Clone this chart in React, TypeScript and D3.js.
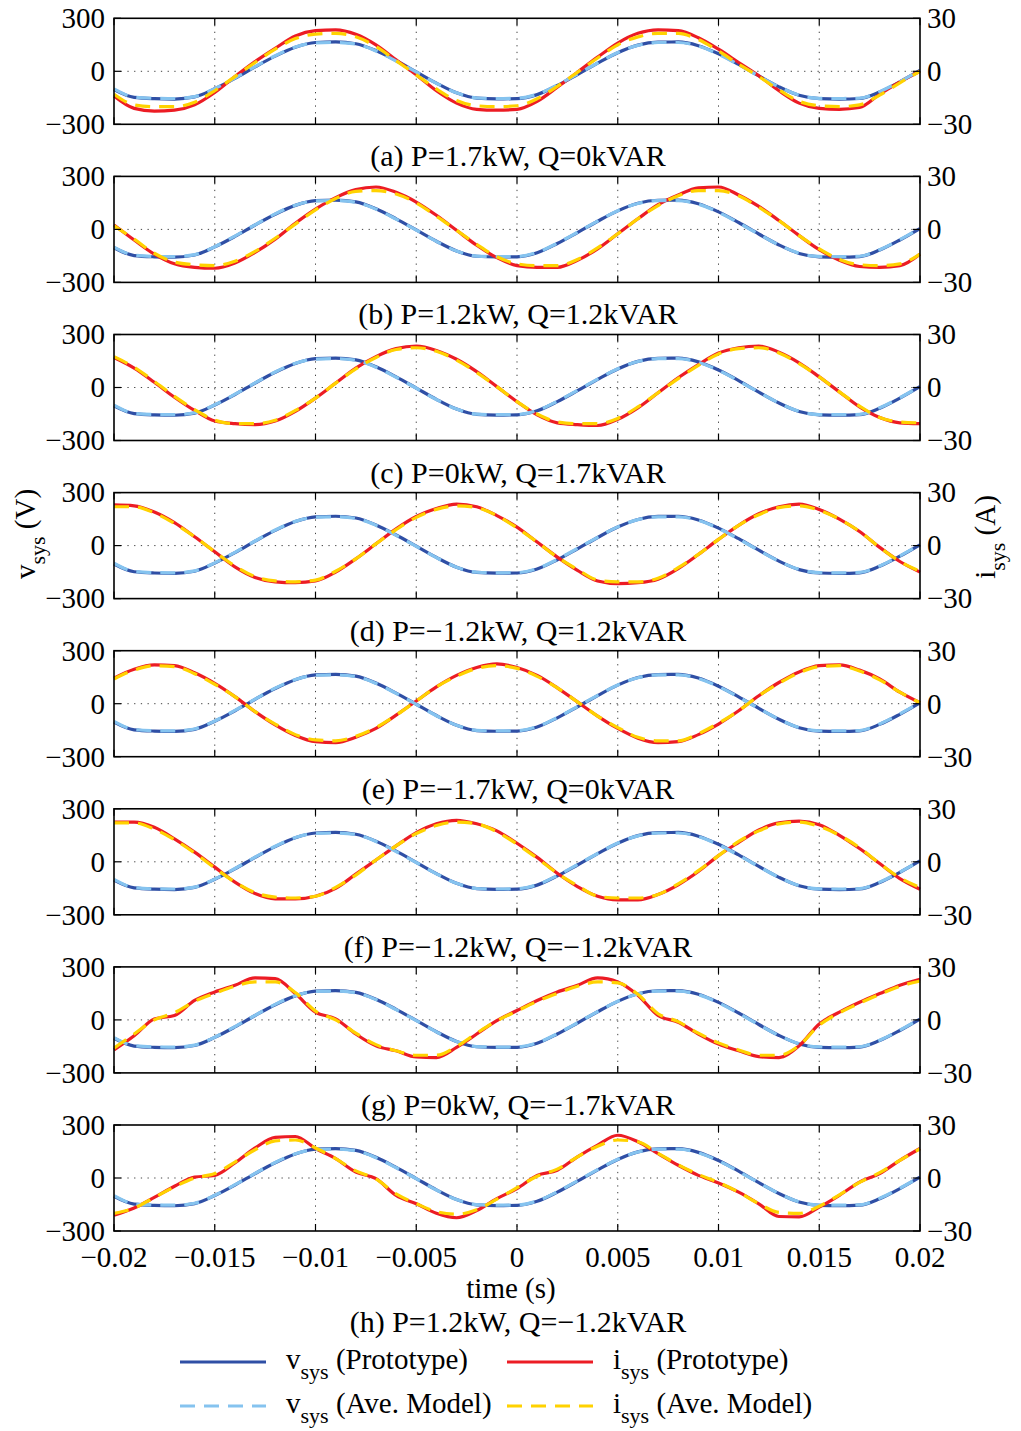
import React from "react";
import { scaleLinear, line, curveMonotoneX } from "d3";

// sample instants (s), one every 1 ms
const sampleTimes = [
  -0.02, -0.019, -0.018, -0.017, -0.016, -0.015, -0.014, -0.013, -0.012, -0.011,
  -0.01, -0.009, -0.008, -0.007, -0.006, -0.005, -0.004, -0.003, -0.002, -0.001,
  0, 0.001, 0.002, 0.003, 0.004, 0.005, 0.006, 0.007, 0.008, 0.009,
  0.01, 0.011, 0.012, 0.013, 0.014, 0.015, 0.016, 0.017, 0.018, 0.019, 0.02
];

const timeTicks = [-0.02, -0.015, -0.01, -0.005, 0, 0.005, 0.01, 0.015, 0.02];
const timeTickLabels = ["−0.02", "−0.015", "−0.01", "−0.005", "0", "0.005", "0.01", "0.015", "0.02"];
const voltTicks = [-300, 0, 300];
const voltTickLabels = ["−300", "0", "300"];
const currTicks = [-30, 0, 30];
const currTickLabels = ["−30", "0", "30"];

// grid voltage (V), same in every case
const vsysProto = [
  -104, -148, -155, -157, -145, -99, -40, 25, 86, 136, 163, 166, 156, 117, 60, -3, -67, -122, -152, -156,
  -155, -132, -80, -18, 46, 105, 148, 165, 166, 145, 99, 39, -26, -88, -136, -155, -157, -154, -117, -60, 5
];
const vsysAve = [
  -100, -146, -153, -154, -143, -98, -38, 26, 88, 137, 161, 163, 154, 115, 58, -4, -68, -122, -151, -154,
  -153, -130, -78, -16, 47, 106, 147, 163, 163, 143, 97, 37, -27, -88, -135, -153, -154, -152, -115, -58, 6
];

// grid current (A) for each case
const isysProtoA = [
  -14, -21, -22.5, -22, -19, -12, -3, 5.5, 13, 20, 23, 23.5, 21, 15, 6.5, -2, -11, -18, -21.5, -22,
  -21.5, -17, -9, -0.5, 8, 16, 21.5, 23.5, 23, 19, 12.5, 5, -2.5, -11, -18, -21, -21.5, -20.5, -13, -6, 0
];
const isysAveA = [
  -13, -19, -20, -20, -17.5, -11, -3, 5, 12.5, 18.5, 21, 21.5, 19.5, 14, 6, -2, -10, -16.5, -19.5, -20,
  -19.5, -15.5, -8.5, -0.5, 7.5, 15, 19.5, 21.5, 21.5, 18, 11.5, 4, -3, -10.5, -17, -19.5, -20, -19, -13.5, -6.5, 0
];
const isysProtoB = [
  2.5, -6, -14, -19.5, -21.5, -22, -19, -13, -5.5, 3.5, 11.5, 18, 22.5, 24, 21, 15.5, 8, -0.5, -9, -16,
  -20.5, -21.5, -21.5, -17.5, -11, -2.5, 6, 14, 19.5, 23.5, 24, 19.5, 13, 5, -3.5, -11.5, -17.5, -21, -21.5, -20.5, -14
];
const isysAveB = [
  2, -5.5, -13.5, -18.5, -20, -20.5, -18, -12.5, -5, 3, 11, 17.5, 21.5, 22, 20, 15, 7.5, -0.5, -8.5, -15.5,
  -19.5, -20.5, -20.5, -17, -10.5, -2.5, 6, 13.5, 19, 22, 22, 19, 12.5, 5, -3.5, -11, -17, -20, -20.5, -19.5, -14
];
const isysProtoC = [
  17, 11, 3, -5.5, -13, -19, -20.5, -21, -19, -13.5, -6, 2.5, 11, 17.5, 22, 23.5, 21, 16, 9, 0.5,
  -8, -15.5, -20, -21, -21.5, -18, -11.5, -3, 5.5, 13, 19.5, 22.5, 23.5, 20, 14, 6, -2.5, -11, -17, -20, -20.5
];
const isysAveC = [
  17.5, 11.5, 3.5, -5, -12.5, -18.5, -20.5, -20.5, -18.5, -13, -6, 2.5, 10.5, 17, 21.5, 22.5, 20.5, 15.5, 8.5, 0.5,
  -8, -15, -19.5, -20.5, -20.5, -17.5, -11, -3, 5, 12.5, 19, 22, 22.5, 19.5, 13.5, 6, -2.5, -10.5, -17, -19.5, -20
];
const isysProtoD = [
  23, 22.5, 19, 13, 5, -3.5, -12, -18, -20.5, -21, -20, -15, -7.5, 1, 9.5, 16.5, 21, 23.5, 22, 17,
  10.5, 2, -6.5, -14, -20, -21.5, -21, -19, -13, -5, 3.5, 11.5, 18, 22, 23.5, 20.5, 15, 8, -1, -9, -15
];
const isysAveD = [
  22, 22, 18.5, 12.5, 5, -3.5, -11.5, -17.5, -20, -20.5, -19.5, -14.5, -7.5, 1, 9, 16, 20.5, 22.5, 21.5, 17,
  10, 2, -6.5, -13.5, -19.5, -20.5, -20.5, -18.5, -12.5, -5, 3.5, 11.5, 17.5, 21.5, 22.5, 20, 15, 8, -1, -9, -14.5
];
const isysProtoE = [
  14.5, 19.5, 22, 21.5, 17.5, 11.5, 4, -4.5, -12, -18, -21.5, -22, -19, -14, -6.5, 1.5, 9.5, 16, 20.5, 22.5,
  20.5, 16, 9, 1, -7, -14, -19.5, -22, -21.5, -17.5, -11.5, -4, 4.5, 12, 18, 21.5, 22, 19, 14, 6.5, 0.5
];
const isysAveE = [
  14, 19, 21.5, 21, 17, 11, 4, -4.5, -11.5, -17.5, -20.5, -21, -18.5, -13.5, -6.5, 1.5, 9.5, 15.5, 20, 21.5,
  20, 15.5, 9, 1, -7, -13.5, -19, -21, -21, -17, -11, -4, 4.5, 11.5, 17.5, 21, 21.5, 18.5, 13.5, 6.5, 0.5
];
const isysProtoF = [
  22.5, 22.5, 19.5, 13, 5.5, -3, -11.5, -18, -21, -21, -19.5, -15, -7, 1, 9, 16.5, 21.5, 23.5, 21.5, 17.5,
  10.5, 2.5, -6.5, -14, -19.5, -21.5, -21.5, -18.5, -13, -5.5, 3.5, 11, 18, 22, 23, 21, 15, 7.5, -1, -9.5, -15.5
];
const isysAveF = [
  22, 22, 18.5, 12.5, 5, -3.5, -11.5, -17.5, -20, -20.5, -19.5, -14.5, -7.5, 1, 9, 16, 20.5, 22.5, 21.5, 17,
  10, 2, -6.5, -13.5, -19.5, -20.5, -20.5, -18.5, -12.5, -5, 3.5, 11.5, 17.5, 21.5, 22.5, 20, 15, 8, -1, -9, -14.5
];
const isysProtoG = [
  -17, -9, 0.5, 2.5, 11, 15.8, 19.6, 23.8, 23.4, 14.9, 4.4, 0.6, -8, -14.7, -17.5, -21, -21.3, -15.6, -8, -0.4,
  5.3, 11, 15.8, 19.6, 23.8, 21.5, 14, 2.5, -1.3, -8, -13.7, -17.5, -20.8, -21.3, -14.7, -2.3, 4.4, 10, 14.9, 19.6, 23
];
const isysAveG = [
  -16, -8, 0, 4, 10.5, 15, 19, 21.5, 21.5, 15.5, 5, 0, -7.5, -14, -17.5, -20, -20, -15, -7.5, -0.5,
  5, 10.5, 15, 19, 21.5, 21, 14.5, 3.5, -1, -7.5, -13, -17, -20, -20, -14.5, -3, 4, 9.5, 14.5, 19, 22
];
const isysProtoH = [
  -21, -17, -11, -4.7, 0.5, 1.5, 8.5, 17, 23, 23.5, 16.7, 11, 3.4, -0.4, -9.8, -14.6, -20, -22.5, -18.4, -11.7,
  -6, 1.5, 4.4, 12, 18.6, 24.2, 20.5, 13.8, 7.2, 1.5, -2.8, -8, -14.6, -21.8, -22, -16.5, -9.8, -2.3, 2.5, 10, 16.7
];
const isysAveH = [
  -20, -17, -11, -5, 0, 2.5, 9, 16, 21, 21.5, 17, 11, 4, -0.5, -9, -14.5, -19, -20.5, -18, -12,
  -5.5, 1, 5, 12, 18, 21.5, 20.5, 14, 7.5, 2, -2.5, -8, -14.5, -19.5, -20, -16, -9.5, -2.5, 3, 10, 16.5
];

const panelCaptions = [
  "(a) P=1.7kW, Q=0kVAR",
  "(b) P=1.2kW, Q=1.2kVAR",
  "(c) P=0kW, Q=1.7kVAR",
  "(d) P=−1.2kW, Q=1.2kVAR",
  "(e) P=−1.7kW, Q=0kVAR",
  "(f) P=−1.2kW, Q=−1.2kVAR",
  "(g) P=0kW, Q=−1.7kVAR",
  "(h) P=1.2kW, Q=−1.2kVAR"
];
const currentsProto = [isysProtoA, isysProtoB, isysProtoC, isysProtoD, isysProtoE, isysProtoF, isysProtoG, isysProtoH];
const currentsAve = [isysAveA, isysAveB, isysAveC, isysAveD, isysAveE, isysAveF, isysAveG, isysAveH];

const W = 1021;
const H = 1431;
const left = 114;
const right = 920;
const firstTop = 18.3;
const step = 158.1;
const panelH = 106;
const font = "'Liberation Serif', 'Times New Roman', serif";
const fs = 29; // tick labels, legend
const capFs = 30; // captions

const colors = {
  vProto: "#2f4fa5",
  vAve: "#85c3ef",
  iProto: "#ec1c24",
  iAve: "#ffd200"
};

const x = scaleLinear().domain([-0.02, 0.02]).range([left, right]);

function Panel({ index }) {
  const top = firstTop + index * step;
  const bottom = top + panelH;
  const yV = scaleLinear().domain([-300, 300]).range([bottom, top]);
  const yI = scaleLinear().domain([-30, 30]).range([bottom, top]);
  const vLine = line<number>().x((d, i) => x(sampleTimes[i])).y(d => yV(d)).curve(curveMonotoneX);
  const iLine = line<number>().x((d, i) => x(sampleTimes[i])).y(d => yI(d)).curve(curveMonotoneX);
  const isLast = index === panelCaptions.length - 1;

  return (
    <g>
      {/* dotted grid */}
      {timeTicks.slice(1, -1).map(t => (
        <line key={t} x1={x(t)} x2={x(t)} y1={top} y2={bottom} stroke="#444" strokeWidth={1} strokeDasharray="1.3,5.4" />
      ))}
      <line x1={left} x2={right} y1={yV(0)} y2={yV(0)} stroke="#444" strokeWidth={1} strokeDasharray="1.3,5.4" />

      <path d={vLine(vsysProto)} fill="none" stroke={colors.vProto} strokeWidth={3.2} />
      <path d={iLine(currentsProto[index])} fill="none" stroke={colors.iProto} strokeWidth={3.2} />
      <path d={vLine(vsysAve)} fill="none" stroke={colors.vAve} strokeWidth={3.2} strokeDasharray="15,9" />
      <path d={iLine(currentsAve[index])} fill="none" stroke={colors.iAve} strokeWidth={3.2} strokeDasharray="15,9" />

      {/* ticks */}
      {timeTicks.map(t => (
        <g key={"t" + t}>
          <line x1={x(t)} x2={x(t)} y1={bottom} y2={bottom - 7} stroke="#000" strokeWidth={1.2} />
          <line x1={x(t)} x2={x(t)} y1={top} y2={top + 7} stroke="#000" strokeWidth={1.2} />
        </g>
      ))}
      {voltTicks.map(v => (
        <g key={"v" + v}>
          <line x1={left} x2={left + 7} y1={yV(v)} y2={yV(v)} stroke="#000" strokeWidth={1.2} />
          <line x1={right} x2={right - 7} y1={yV(v)} y2={yV(v)} stroke="#000" strokeWidth={1.2} />
        </g>
      ))}
      <rect x={left} y={top} width={right - left} height={panelH} fill="none" stroke="#000" strokeWidth={1.6} />

      {voltTicks.map((v, i) => (
        <text key={"vl" + v} x={left - 9} y={yV(v) + fs * 0.34} textAnchor="end" fontSize={fs}>
          {voltTickLabels[i]}
        </text>
      ))}
      {currTicks.map((c, i) => (
        <text key={"cl" + c} x={right + 7} y={yI(c) + fs * 0.34} textAnchor="start" fontSize={fs}>
          {currTickLabels[i]}
        </text>
      ))}

      {isLast &&
        timeTicks.map((t, i) => (
          <text key={"xl" + t} x={x(t)} y={bottom + 36} textAnchor="middle" fontSize={fs}>
            {timeTickLabels[i]}
          </text>
        ))}
      {isLast && (
        <text x={511} y={bottom + 67} textAnchor="middle" fontSize={fs}>
          time (s)
        </text>
      )}
      <text x={518} y={isLast ? bottom + 101 : bottom + 42} textAnchor="middle" fontSize={capFs}>
        {panelCaptions[index]}
      </text>
    </g>
  );
}

function LegendEntry({ x0, y0, color, dashed, symbol, desc }) {
  return (
    <g>
      <line x1={x0} x2={x0 + 86} y1={y0} y2={y0} stroke={color} strokeWidth={3.2} strokeDasharray={dashed ? "15,9" : undefined} />
      <text x={x0 + 106} y={y0 + 7} fontSize={fs}>
        {symbol}
        <tspan dy={10} fontSize={22}>sys</tspan>
        <tspan dy={-10}> {desc}</tspan>
      </text>
    </g>
  );
}

export default function App() {
  return (
    <div style={{ position: "absolute", left: 0, top: 0 }}>
      <svg width={W} height={H} fontFamily={font} style={{ display: "block", background: "#fff" }}>
        {panelCaptions.map((c, i) => (
          <Panel key={c} index={i} />
        ))}

        <text transform="translate(35,534) rotate(-90)" textAnchor="middle" fontSize={fs}>
          v<tspan dy={10} fontSize={22}>sys</tspan>
          <tspan dy={-10}> (V)</tspan>
        </text>
        <text transform="translate(995,537) rotate(-90)" textAnchor="middle" fontSize={fs}>
          i<tspan dy={10} fontSize={22}>sys</tspan>
          <tspan dy={-10}> (A)</tspan>
        </text>

        <LegendEntry x0={180} y0={1362} color={colors.vProto} dashed={false} symbol="v" desc="(Prototype)" />
        <LegendEntry x0={507} y0={1362} color={colors.iProto} dashed={false} symbol="i" desc="(Prototype)" />
        <LegendEntry x0={180} y0={1406} color={colors.vAve} dashed={true} symbol="v" desc="(Ave. Model)" />
        <LegendEntry x0={507} y0={1406} color={colors.iAve} dashed={true} symbol="i" desc="(Ave. Model)" />
      </svg>
    </div>
  );
}
